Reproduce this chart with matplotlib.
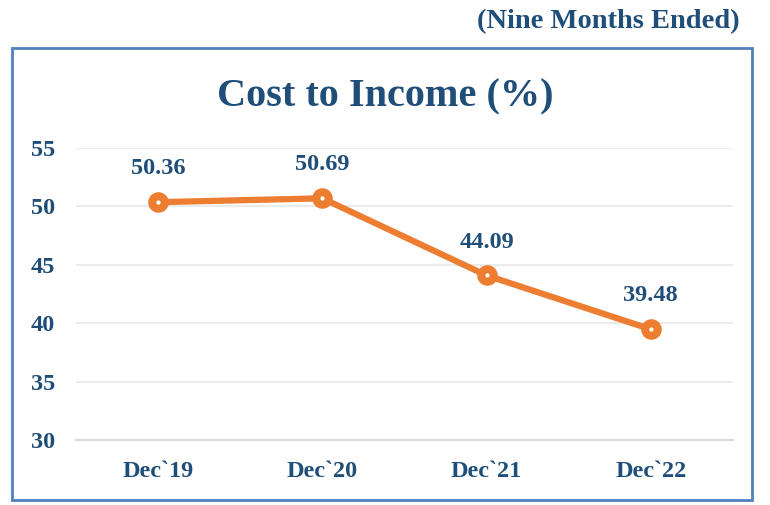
import matplotlib.pyplot as plt
from matplotlib.patches import Rectangle

# Data
periods = ["Dec`19", "Dec`20", "Dec`21", "Dec`22"]
cost_to_income = [50.36, 50.69, 44.09, 39.48]
y_ticks = [30, 35, 40, 45, 50, 55]

navy = "#1F4E79"
orange = "#ED7D31"

plt.rcParams['font.family'] = ['Liberation Serif', 'DejaVu Serif']
plt.rcParams['font.weight'] = 'bold'

fig = plt.figure(figsize=(7.7, 5.05), dpi=100)
ax = fig.add_axes([0.0987, 0.1287, 0.853, 0.5783])

# outer frame
fig.patches.append(Rectangle((12 / 770, 1 - 500 / 505), 740 / 770, 452 / 505,
                             transform=fig.transFigure, fill=False,
                             edgecolor="#4F81BD", linewidth=2))

x = range(len(periods))
ax.plot(x, cost_to_income, color=orange, linewidth=4.5, marker='o',
        markersize=9, markerfacecolor='white', markeredgecolor=orange,
        markeredgewidth=5.8, zorder=3)

for i, v in zip(x, cost_to_income):
    ax.annotate(f"{v:.2f}", (i, v), xytext=(0, 24), textcoords='offset points',
                ha='center', va='center', fontsize=17.5, fontweight='bold', color=navy)

ax.set_xlim(-0.5, len(periods) - 0.5)
ax.set_ylim(30, 55)
ax.set_yticks(y_ticks)
ax.set_xticks(list(x))
ax.set_xticklabels(periods)
ax.tick_params(axis='both', length=0, labelsize=17.5, labelcolor=navy)
ax.tick_params(axis='y', pad=15)
ax.tick_params(axis='x', pad=15)
for lbl in ax.get_xticklabels() + ax.get_yticklabels():
    lbl.set_fontweight('bold')

ax.grid(axis='y', color='#EBEBEB', linewidth=1.5)
ax.set_axisbelow(True)
for s in ['top', 'right', 'left']:
    ax.spines[s].set_visible(False)
ax.spines['bottom'].set_color('#D9D9D9')
ax.spines['bottom'].set_linewidth(1.5)

fig.text(0.5, 1 - 97 / 505, "Cost to Income (%)", ha='center', va='center',
         fontsize=29, fontweight='bold', color=navy)
fig.text(740 / 770, 1 - 22 / 505, "(Nine Months Ended)", ha='right', va='center',
         fontsize=20.5, fontweight='bold', color=navy)

fig.savefig("out.png", dpi=100)
